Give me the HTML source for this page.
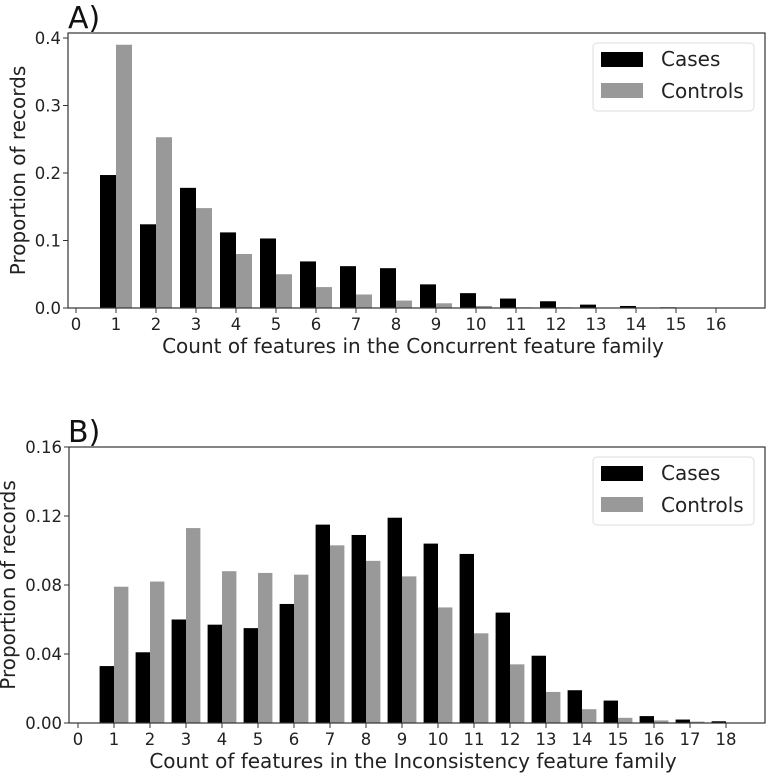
<!DOCTYPE html>
<html><head><meta charset="utf-8"><style>
body{margin:0;background:#fff;}
svg{display:block;font-family:"DejaVu Sans","Liberation Sans",sans-serif;}
</style></head><body>
<svg id="chart" width="768" height="773" viewBox="0 0 768 773"></svg>
<script>
const catsA=[1,2,3,4,5,6,7,8,9,10,11,12,13,14,15,16];
const casesA=[0.197,0.124,0.178,0.112,0.103,0.069,0.062,0.059,0.035,0.022,0.014,0.010,0.005,0.003,0.001,0];
const controlsA=[0.390,0.253,0.148,0.080,0.050,0.031,0.020,0.011,0.007,0.003,0.001,0.001,0,0,0,0];
const yTicksA=[0,0.1,0.2,0.3,0.4];
const yLabelsA=["0.0","0.1","0.2","0.3","0.4"];
const catsB=[1,2,3,4,5,6,7,8,9,10,11,12,13,14,15,16,17,18];
const casesB=[0.033,0.041,0.060,0.057,0.055,0.069,0.115,0.109,0.119,0.104,0.098,0.064,0.039,0.019,0.013,0.004,0.002,0.001];
const controlsB=[0.079,0.082,0.113,0.088,0.087,0.086,0.103,0.094,0.085,0.067,0.052,0.034,0.018,0.008,0.003,0.0015,0.0008,0.0003];
const yTicksB=[0,0.04,0.08,0.12,0.16];
const yLabelsB=["0.00","0.04","0.08","0.12","0.16"];

const NS="http://www.w3.org/2000/svg";
const svg=document.getElementById('chart');
function mk(tag,attrs,parent){const e=document.createElementNS(NS,tag);for(const k in attrs)e.setAttribute(k,attrs[k]);(parent||svg).appendChild(e);return e;}

function panel(p){
  const g=mk('g',{});
  
  
  const xs=v=>p.x0+v*p.xu;
  const ys=v=>p.yb-v/p.ymax*(p.yb-p.yt);
  p.cats.forEach((c,i)=>{
    const w=0.4*p.xu;
    const b1=mk('rect',{x:xs(c)-w,y:ys(p.cases[i]),width:w,height:p.yb-ys(p.cases[i]),fill:'#000'},g);
    
    
    const b2=mk('rect',{x:xs(c),y:ys(p.controls[i]),width:w,height:p.yb-ys(p.controls[i]),fill:'#999'},g);
    
    
  });
  const fr=mk('rect',{x:p.left,y:p.yt,width:p.right-p.left,height:p.yb-p.yt,fill:'none',stroke:'#333','stroke-width':1.2},g);
  
  
  p.yTicks.forEach((t,i)=>{
    const y=ys(t);
    mk('line',{x1:p.left-5,x2:p.left,y1:y,y2:y,stroke:'#333'},g);
    const tx=mk('text',{x:p.left-7,y:y+6,'text-anchor':'end','font-size':16.5,fill:'#222'},g);
    tx.textContent=p.yLabels[i];
    
    
  });
  [0].concat(p.cats).forEach(c=>{
    const x=xs(c);
    mk('line',{x1:x,x2:x,y1:p.yb,y2:p.yb+5,stroke:'#333'},g);
    const tx=mk('text',{x:x,y:p.yb+22,'text-anchor':'middle','font-size':16.5,fill:'#222'},g);
    tx.textContent=String(c);
    
    
  });
  const xl=mk('text',{x:413,y:p.yb+45,'text-anchor':'middle','font-size':20,fill:'#222'},g);
  xl.textContent=p.xlabel;
  
  
  const cy=(p.yt+p.yb)/2;
  const yl=mk('text',{x:p.ylx,y:cy,'text-anchor':'middle','font-size':20,fill:'#222',transform:'rotate(-90 '+p.ylx+' '+cy+')'},g);
  yl.textContent='Proportion of records';
  
  
  const pl=mk('text',{x:68,y:p.yt-5,'font-size':30,fill:'#111'},g);
  pl.textContent=p.letter;
  
  
  const lg=mk('g',{},g);
  
  
  mk('rect',{x:593,y:p.ly,width:161,height:68,rx:4,fill:'#fff',stroke:'#ddd'},lg);
  mk('rect',{x:601,y:p.ly+9,width:42,height:15,fill:'#000'},lg);
  mk('rect',{x:601,y:p.ly+40,width:42,height:15,fill:'#999'},lg);
  const t1=mk('text',{x:661,y:p.ly+23,'font-size':20,fill:'#222'},lg);t1.textContent='Cases';
  
  
  const t2=mk('text',{x:661,y:p.ly+55,'font-size':20,fill:'#222'},lg);t2.textContent='Controls';
  
  
}
panel({name:'panel-a',letter:'A)',left:68,right:765,yt:33,yb:308,ymax:0.4/((308-38)/(308-33)),x0:76,xu:40,ylx:25,
  cats:catsA,cases:casesA,controls:controlsA,yTicks:yTicksA,yLabels:yLabelsA,ly:43,
  xlabel:'Count of features in the Concurrent feature family'});
panel({name:'panel-b',letter:'B)',left:69,right:765,yt:447,yb:723,ymax:0.16,x0:78,xu:36,ylx:15,
  cats:catsB,cases:casesB,controls:controlsB,yTicks:yTicksB,yLabels:yLabelsB,ly:457,
  xlabel:'Count of features in the Inconsistency feature family'});
</script>
</body></html>
